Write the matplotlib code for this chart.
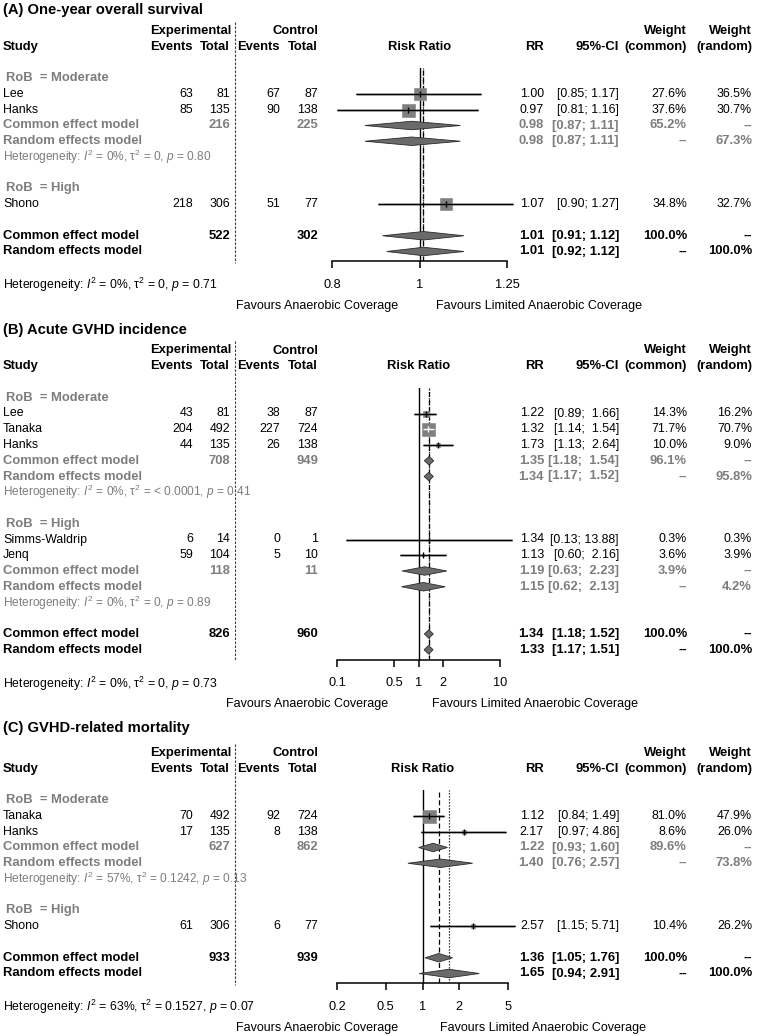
import numpy as np
import matplotlib
matplotlib.use("Agg")
import matplotlib.pyplot as plt
from matplotlib.transforms import blended_transform_factory
from matplotlib.patches import Polygon
from matplotlib.ticker import NullLocator

plt.rcParams['font.family'] = ['Liberation Sans', 'DejaVu Sans']
plt.rcParams['mathtext.fontset'] = 'custom'
plt.rcParams['mathtext.rm'] = 'Liberation Sans'
plt.rcParams['mathtext.it'] = 'Liberation Sans:italic'
plt.rcParams['mathtext.bf'] = 'Liberation Sans:bold'

# ---------------- Panel A data ----------------
A_title = "(A) One-year overall survival"
A_group = ["Moderate", "Moderate", "High"]
A_study = ["Lee", "Hanks", "Shono"]
A_ev_e = [63, 85, 218]
A_n_e = [81, 135, 306]
A_ev_c = [67, 90, 51]
A_n_c = [87, 138, 77]
A_rr = [1.00, 0.97, 1.07]
A_lo = [0.85, 0.81, 0.90]
A_hi = [1.17, 1.16, 1.27]
A_wc = [27.6, 37.6, 34.8]
A_wr = [36.5, 30.7, 32.7]
A_sub_group = ["Moderate"]
A_sub_n_e = [216]
A_sub_n_c = [225]
A_sub_c = [[0.98, 0.87, 1.11]]
A_sub_r = [[0.98, 0.87, 1.11]]
A_sub_wc = [65.2]
A_sub_wr = [67.3]
A_sub_het = [["0%", "0", "0.80"]]
A_tot_n = [522, 302]
A_tot_c = [1.01, 0.91, 1.12]
A_tot_r = [1.01, 0.92, 1.12]
A_het = ["0%", "0", "0.71"]
A_ticks = [0.8, 1, 1.25]
A_ticklabels = ["0.8", "1", "1.25"]

# ---------------- Panel B data ----------------
B_title = "(B) Acute GVHD incidence"
B_group = ["Moderate", "Moderate", "Moderate", "High", "High"]
B_study = ["Lee", "Tanaka", "Hanks", "Simms-Waldrip", "Jenq"]
B_ev_e = [43, 204, 44, 6, 59]
B_n_e = [81, 492, 135, 14, 104]
B_ev_c = [38, 227, 26, 0, 5]
B_n_c = [87, 724, 138, 1, 10]
B_rr = [1.22, 1.32, 1.73, 1.34, 1.13]
B_lo = [0.89, 1.14, 1.13, 0.13, 0.60]
B_hi = [1.66, 1.54, 2.64, 13.88, 2.16]
B_wc = [14.3, 71.7, 10.0, 0.3, 3.6]
B_wr = [16.2, 70.7, 9.0, 0.3, 3.9]
B_sub_group = ["Moderate", "High"]
B_sub_n_e = [708, 118]
B_sub_n_c = [949, 11]
B_sub_c = [[1.35, 1.18, 1.54], [1.19, 0.63, 2.23]]
B_sub_r = [[1.34, 1.17, 1.52], [1.15, 0.62, 2.13]]
B_sub_wc = [96.1, 3.9]
B_sub_wr = [95.8, 4.2]
B_sub_het = [["0%", "< 0.0001", "0.41"], ["0%", "0", "0.89"]]
B_tot_n = [826, 960]
B_tot_c = [1.34, 1.18, 1.52]
B_tot_r = [1.33, 1.17, 1.51]
B_het = ["0%", "0", "0.73"]
B_ticks = [0.1, 0.5, 1, 2, 10]
B_ticklabels = ["0.1", "0.5", "1", "2", "10"]

# ---------------- Panel C data ----------------
C_title = "(C) GVHD-related mortality"
C_group = ["Moderate", "Moderate", "High"]
C_study = ["Tanaka", "Hanks", "Shono"]
C_ev_e = [70, 17, 61]
C_n_e = [492, 135, 306]
C_ev_c = [92, 8, 6]
C_n_c = [724, 138, 77]
C_rr = [1.12, 2.17, 2.57]
C_lo = [0.84, 0.97, 1.15]
C_hi = [1.49, 4.86, 5.71]
C_wc = [81.0, 8.6, 10.4]
C_wr = [47.9, 26.0, 26.2]
C_sub_group = ["Moderate"]
C_sub_n_e = [627]
C_sub_n_c = [862]
C_sub_c = [[1.22, 0.93, 1.60]]
C_sub_r = [[1.40, 0.76, 2.57]]
C_sub_wc = [89.6]
C_sub_wr = [73.8]
C_sub_het = [["57%", "0.1242", "0.13"]]
C_tot_n = [933, 939]
C_tot_c = [1.36, 1.05, 1.76]
C_tot_r = [1.65, 0.94, 2.91]
C_het = ["63%", "0.1527", "0.07"]
C_ticks = [0.2, 0.5, 1, 2, 5]
C_ticklabels = ["0.2", "0.5", "1", "2", "5"]

LEFT_LABEL = "Favours Anaerobic Coverage"
RIGHT_LABEL = "Favours Limited Anaerobic Coverage"

W, H = 758, 1036
fig = plt.figure(figsize=(W / 100, H / 100), dpi=100)

GREY = "#7d7d7d"
SQ = "#808080"
DIA = "#6a6a6a"
h = 15.75
FS = 8.9      # regular text
FSB = 9.4     # bold text
FSH = 8.6     # subgroup heterogeneity
FST = 10.6    # panel titles

# column right edges (px)
X_EVE, X_NE, X_SEP, X_EVC, X_NC = 193, 230, 235, 280, 318
X_RR, X_CI, X_WC, X_WR = 544, 619, 687, 752


def panel(title, group, study, ev_e, n_e, ev_c, n_c, rr, lo, hi, wc, wr,
          sub_group, sub_n_e, sub_n_c, sub_c, sub_r, sub_wc, sub_wr, sub_het,
          tot_n, tot_c, tot_r, het, ticks, ticklabels):
    return dict(title=title, group=group, study=study, ev_e=ev_e, n_e=n_e,
                ev_c=ev_c, n_c=n_c, rr=rr, lo=lo, hi=hi, wc=wc, wr=wr,
                sub_group=sub_group, sub_n_e=sub_n_e, sub_n_c=sub_n_c,
                sub_c=sub_c, sub_r=sub_r, sub_wc=sub_wc, sub_wr=sub_wr,
                sub_het=sub_het, tot_n=tot_n, tot_c=tot_c, tot_r=tot_r,
                het=het, ticks=ticks, ticklabels=ticklabels)


def het_text(i2, tau2, p):
    return (r"Heterogeneity: $I^2$ = " + i2 +
            r", $\mathregular{\tau^2}$ = " + tau2 + r", $p$ = " + p)


def draw_panel(d, y0, ytitle, xl, xr, favl, favr):
    items = []
    r = 3
    groups = []
    for g in d["group"]:
        if g not in groups:
            groups.append(g)
    for g in groups:
        items.append(("label", r, g)); r += 1
        for i, gg in enumerate(d["group"]):
            if gg == g:
                items.append(("study", r, i)); r += 1
        if g in d["sub_group"]:
            j = d["sub_group"].index(g)
            items.append(("subc", r, j)); r += 1
            items.append(("subr", r, j)); r += 1
            items.append(("subhet", r, j)); r += 1
        r += 1
    items.append(("totc", r, None))
    items.append(("totr", r + 1, None))
    last = r + 1
    axis_row = last + 0.63
    top_row = 2.35

    ax = fig.add_axes([xl / W, 1 - (y0 + axis_row * h) / H,
                       (xr - xl) / W, (axis_row - top_row) * h / H])
    ax.set_xscale("log")
    ax.set_xlim(d["ticks"][0], d["ticks"][-1])
    ax.set_ylim(axis_row, top_row)
    ax.patch.set_alpha(0)
    for s in ["top", "left", "right"]:
        ax.spines[s].set_visible(False)
    ax.spines["bottom"].set_linewidth(1.1)
    ax.set_yticks([])
    ax.set_xticks(d["ticks"])
    ax.set_xticklabels(d["ticklabels"])
    ax.xaxis.set_minor_locator(NullLocator())
    ax.tick_params(axis="x", direction="out", length=4.8, width=1.1,
                   labelsize=9.2, pad=7.5)

    tr = blended_transform_factory(fig.transFigure, ax.transData)

    def T(x, row, s, ha="left", color="black", weight="normal", size=None):
        if size is None:
            size = FSB if weight == "bold" else FS
        ax.text(x / W, row, s, transform=tr, ha=ha, va="center",
                color=color, fontweight=weight, fontsize=size)

    big = max(d["hi"]) >= 10

    def ci_str(lo_, hi_, pad=True):
        hs = f"{hi_:.2f}"
        if big and pad and hi_ < 10:
            hs = " " + hs
        return f"[{lo_:.2f}; {hs}]"

    def wstr(w):
        return "--" if w is None else f"{w:.1f}%"

    # title and headers
    T(3, (ytitle - y0) / h, d["title"], weight="bold", size=FST)
    T(X_NE + 1, 0, "Experimental", ha="right", weight="bold")
    T(X_NC, 0, "Control", ha="right", weight="bold")
    T(X_WC, 0, "Weight", ha="right", weight="bold")
    T(X_WR, 0, "Weight", ha="right", weight="bold")
    T(3, 1, "Study", weight="bold")
    T(X_EVE, 1, "Events", ha="right", weight="bold")
    T(X_NE, 1, "Total", ha="right", weight="bold")
    T(X_EVC, 1, "Events", ha="right", weight="bold")
    T(X_NC, 1, "Total", ha="right", weight="bold")
    T((xl + xr) / 2, 1, "Risk Ratio", ha="center", weight="bold")
    T(X_RR, 1, "RR", ha="right", weight="bold")
    T(X_CI, 1, "95%-CI", ha="right", weight="bold")
    T(X_WC, 1, "(common)", ha="right", weight="bold")
    T(X_WR, 1, "(random)", ha="right", weight="bold")

    # separator between experimental and control
    ax.plot([X_SEP / W, X_SEP / W], [-0.6, axis_row + 0.1], transform=tr,
            ls=(0, (2.2, 1.4)), lw=0.8, color="#3a3a3a", clip_on=False)

    # reference lines
    ax.axvline(1, color="black", lw=1.0, zorder=1)
    ax.axvline(d["tot_c"][0], color="black", lw=0.9, ls=(0, (4, 2.2)), zorder=1)
    ax.axvline(d["tot_r"][0], color="black", lw=0.9, ls=(0, (1, 1.4)), zorder=1)

    wmax = max(d["wc"])
    dh = 0.27

    def diamond(row, est, lo_, hi_):
        poly = Polygon([(lo_, row), (est, row - dh), (hi_, row), (est, row + dh)],
                       closed=True, facecolor=DIA, edgecolor="#2a2a2a",
                       lw=0.6, zorder=4, clip_on=False)
        ax.add_patch(poly)

    for kind, row, k in items:
        if kind == "label":
            T(6, row, "RoB  = " + k, color=GREY, weight="bold")
        elif kind == "study":
            T(3, row, d["study"][k])
            T(X_EVE, row, str(d["ev_e"][k]), ha="right")
            T(X_NE, row, str(d["n_e"][k]), ha="right")
            T(X_EVC, row, str(d["ev_c"][k]), ha="right")
            T(X_NC, row, str(d["n_c"][k]), ha="right")
            T(X_RR, row, f"{d['rr'][k]:.2f}", ha="right")
            T(X_CI, row, ci_str(d["lo"][k], d["hi"][k]), ha="right")
            T(X_WC, row, wstr(d["wc"][k]), ha="right")
            T(X_WR, row, wstr(d["wr"][k]), ha="right")
            est, lo_, hi_ = d["rr"][k], d["lo"][k], d["hi"][k]
            size_px = 13.0 * np.sqrt(d["wc"][k] / wmax)
            ax.plot([lo_, hi_], [row, row], color="black", lw=1.0,
                    zorder=3, clip_on=False, solid_capstyle="butt")
            ax.plot([est], [row], marker="s", ms=size_px * 0.72, mfc=SQ,
                    mec="#8c8c8c", mew=0.5, ls="none", zorder=4, clip_on=False)
            xe = ax.transData.transform((est, row))[0]
            xlo = ax.transData.transform((lo_, row))[0]
            xhi = ax.transData.transform((hi_, row))[0]
            inside = (xe - xlo) < size_px / 2 and (xhi - xe) < size_px / 2
            col = "white" if inside else "black"
            ax.plot([lo_, hi_], [row, row], color=col, lw=1.0, zorder=5,
                    clip_on=False, solid_capstyle="butt")
            ax.plot([est], [row], marker="|", ms=4, mew=1.0, color=col,
                    ls="none", zorder=6, clip_on=False)
        elif kind == "subc":
            T(3, row, "Common effect model", color=GREY, weight="bold")
            T(X_NE, row, str(d["sub_n_e"][k]), ha="right", color=GREY, weight="bold")
            T(X_NC, row, str(d["sub_n_c"][k]), ha="right", color=GREY, weight="bold")
            est, lo_, hi_ = d["sub_c"][k]
            T(X_RR, row, f"{est:.2f}", ha="right", color=GREY, weight="bold")
            T(X_CI, row, ci_str(lo_, hi_), ha="right", color=GREY, weight="bold")
            T(X_WC, row, wstr(d["sub_wc"][k]), ha="right", color=GREY, weight="bold")
            T(X_WR, row, "--", ha="right", color=GREY, weight="bold")
            diamond(row, est, lo_, hi_)
        elif kind == "subr":
            T(3, row, "Random effects model", color=GREY, weight="bold")
            est, lo_, hi_ = d["sub_r"][k]
            T(X_RR, row, f"{est:.2f}", ha="right", color=GREY, weight="bold")
            T(X_CI, row, ci_str(lo_, hi_), ha="right", color=GREY, weight="bold")
            T(X_WC, row, "--", ha="right", color=GREY, weight="bold")
            T(X_WR, row, wstr(d["sub_wr"][k]), ha="right", color=GREY, weight="bold")
            diamond(row, est, lo_, hi_)
        elif kind == "subhet":
            T(3, row, het_text(*d["sub_het"][k]), color=GREY, size=FSH)
        elif kind == "totc":
            T(3, row, "Common effect model", weight="bold")
            T(X_NE, row, str(d["tot_n"][0]), ha="right", weight="bold")
            T(X_NC, row, str(d["tot_n"][1]), ha="right", weight="bold")
            est, lo_, hi_ = d["tot_c"]
            T(X_RR, row, f"{est:.2f}", ha="right", weight="bold")
            T(X_CI, row, ci_str(lo_, hi_, pad=False), ha="right", weight="bold")
            T(X_WC, row, "100.0%", ha="right", weight="bold")
            T(X_WR, row, "--", ha="right", weight="bold")
            diamond(row, est, lo_, hi_)
        elif kind == "totr":
            T(3, row, "Random effects model", weight="bold")
            est, lo_, hi_ = d["tot_r"]
            T(X_RR, row, f"{est:.2f}", ha="right", weight="bold")
            T(X_CI, row, ci_str(lo_, hi_, pad=False), ha="right", weight="bold")
            T(X_WC, row, "--", ha="right", weight="bold")
            T(X_WR, row, "100.0%", ha="right", weight="bold")
            diamond(row, est, lo_, hi_)

    T(3, last + 2.15, het_text(*d["het"]), size=8.8)
    T(favl, last + 3.45, LEFT_LABEL, ha="right", size=9.0)
    T(favr, last + 3.45, RIGHT_LABEL, ha="left", size=9.0)


PA = panel(A_title, A_group, A_study, A_ev_e, A_n_e, A_ev_c, A_n_c, A_rr, A_lo,
           A_hi, A_wc, A_wr, A_sub_group, A_sub_n_e, A_sub_n_c, A_sub_c,
           A_sub_r, A_sub_wc, A_sub_wr, A_sub_het, A_tot_n, A_tot_c, A_tot_r,
           A_het, A_ticks, A_ticklabels)
PB = panel(B_title, B_group, B_study, B_ev_e, B_n_e, B_ev_c, B_n_c, B_rr, B_lo,
           B_hi, B_wc, B_wr, B_sub_group, B_sub_n_e, B_sub_n_c, B_sub_c,
           B_sub_r, B_sub_wc, B_sub_wr, B_sub_het, B_tot_n, B_tot_c, B_tot_r,
           B_het, B_ticks, B_ticklabels)
PC = panel(C_title, C_group, C_study, C_ev_e, C_n_e, C_ev_c, C_n_c, C_rr, C_lo,
           C_hi, C_wc, C_wr, C_sub_group, C_sub_n_e, C_sub_n_c, C_sub_c,
           C_sub_r, C_sub_wc, C_sub_wr, C_sub_het, C_tot_n, C_tot_c, C_tot_r,
           C_het, C_ticks, C_ticklabels)

draw_panel(PA, 31.0, 10.0, 332, 507, 398, 436)
draw_panel(PB, 350.5, 330.0, 337, 500, 388, 432)
draw_panel(PC, 753.0, 728.0, 337, 508, 398, 440)

fig.savefig("out.png", dpi=100)
